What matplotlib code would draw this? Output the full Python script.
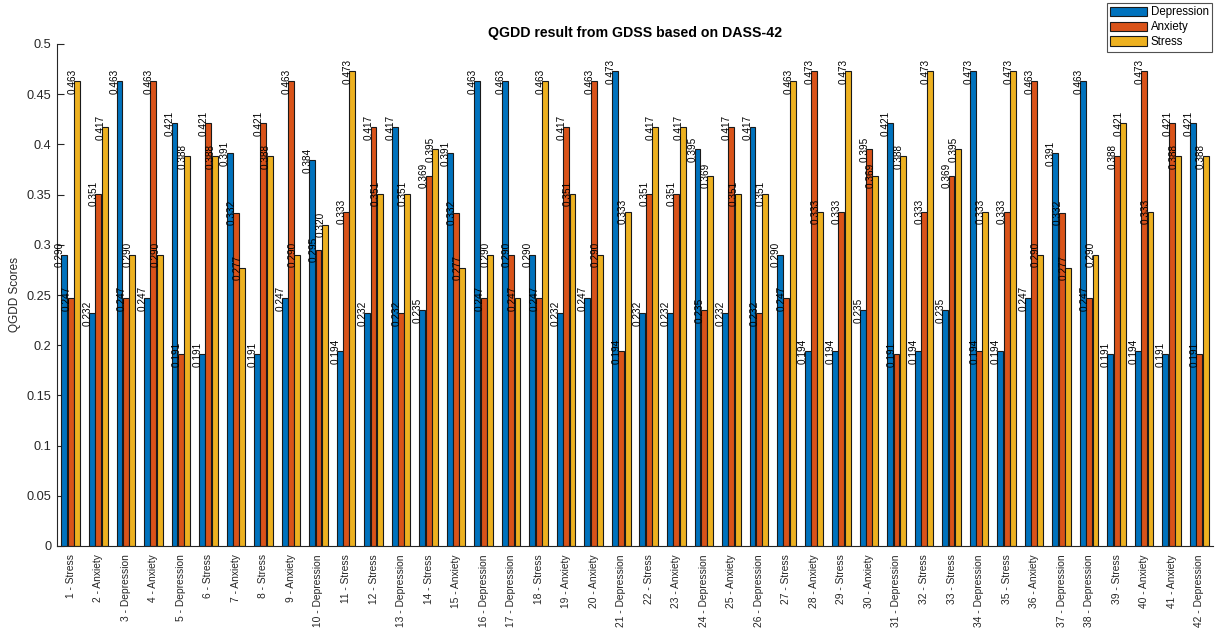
import matplotlib
matplotlib.use("Agg")
import matplotlib.pyplot as plt
import numpy as np

plt.rcParams['font.family'] = ['Liberation Sans', 'DejaVu Sans']

# DASS-42 items and their dominant scale
items = [
    "1 - Stress", "2 - Anxiety", "3 - Depression", "4 - Anxiety", "5 - Depression",
    "6 - Stress", "7 - Anxiety", "8 - Stress", "9 - Anxiety", "10 - Depression",
    "11 - Stress", "12 - Stress", "13 - Depression", "14 - Stress", "15 - Anxiety",
    "16 - Depression", "17 - Depression", "18 - Stress", "19 - Anxiety", "20 - Anxiety",
    "21 - Depression", "22 - Stress", "23 - Anxiety", "24 - Depression", "25 - Anxiety",
    "26 - Depression", "27 - Stress", "28 - Anxiety", "29 - Stress", "30 - Anxiety",
    "31 - Depression", "32 - Stress", "33 - Stress", "34 - Depression", "35 - Stress",
    "36 - Anxiety", "37 - Depression", "38 - Depression", "39 - Stress", "40 - Anxiety",
    "41 - Anxiety", "42 - Depression",
]

depression = [0.290, 0.232, 0.463, 0.247, 0.421, 0.191, 0.391, 0.191, 0.247, 0.384,
              0.194, 0.232, 0.417, 0.235, 0.391, 0.463, 0.463, 0.290, 0.232, 0.247,
              0.473, 0.232, 0.232, 0.395, 0.232, 0.417, 0.290, 0.194, 0.194, 0.235,
              0.421, 0.194, 0.235, 0.473, 0.194, 0.247, 0.391, 0.463, 0.191, 0.194,
              0.191, 0.421]
anxiety = [0.247, 0.351, 0.247, 0.463, 0.191, 0.421, 0.332, 0.421, 0.463, 0.295,
           0.333, 0.417, 0.232, 0.369, 0.332, 0.247, 0.290, 0.247, 0.417, 0.463,
           0.194, 0.351, 0.351, 0.235, 0.417, 0.232, 0.247, 0.473, 0.333, 0.395,
           0.191, 0.333, 0.369, 0.194, 0.333, 0.463, 0.332, 0.247, 0.388, 0.473,
           0.421, 0.191]
stress = [0.463, 0.417, 0.290, 0.290, 0.388, 0.388, 0.277, 0.388, 0.290, 0.320,
          0.473, 0.351, 0.351, 0.395, 0.277, 0.290, 0.247, 0.463, 0.351, 0.290,
          0.333, 0.417, 0.417, 0.369, 0.351, 0.351, 0.463, 0.333, 0.473, 0.369,
          0.388, 0.473, 0.395, 0.333, 0.473, 0.290, 0.277, 0.290, 0.421, 0.333,
          0.388, 0.388]

series_names = ["Depression", "Anxiety", "Stress"]
series_colors = ["#0072BD", "#D95319", "#EDB120"]

W, H = 1219, 633
fig = plt.figure(figsize=(W / 100, H / 100), dpi=100)
ax = fig.add_axes([57 / W, (H - 546) / H, (1213 - 57) / W, (546 - 44) / H])

x = np.arange(1, len(items) + 1)
offset = 0.23
width = 0.215
handles = []
for k, (vals, name, col) in enumerate(zip([depression, anxiety, stress], series_names, series_colors)):
    xs = x + (k - 1) * offset
    bars = ax.bar(xs, vals, width=width, color=col, edgecolor="#1a1a1a",
                  linewidth=0.8, label=name, zorder=2)
    handles.append(bars)
    for xi, v in zip(xs, vals):
        ax.text(xi + 0.02, v, f"{v:.3f}", rotation=90, ha="right", va="center",
                fontsize=7.2, color="black", zorder=3)

ax.set_xlim(0.5, 42.5)
ax.set_ylim(0, 0.5)
ax.set_yticks(np.arange(0, 0.501, 0.05))
ax.set_yticklabels([f"{t:g}" for t in np.arange(0, 0.501, 0.05)], fontsize=9.2, color="#262626")
ax.set_xticks(x)
ax.set_xticklabels(items, rotation=90, fontsize=7.4, color="#262626")
ax.tick_params(axis="y", direction="in", length=5, width=0.8, colors="#262626", pad=4)
ax.tick_params(axis="x", direction="in", length=2, width=0.8, colors="#262626", pad=6)
for s in ["top", "right"]:
    ax.spines[s].set_visible(False)
for s in ["left", "bottom"]:
    ax.spines[s].set_color("#262626")
    ax.spines[s].set_linewidth(0.8)

ax.set_ylabel("QGDD Scores", fontsize=8.5, color="#262626", labelpad=4)
fig.text(635 / W, 1 - 33 / H, "QGDD result from GDSS based on DASS-42",
         ha="center", va="center", fontsize=10.2, fontweight="bold", color="black")

leg = fig.legend(handles=handles, labels=series_names, loc="upper right",
                 bbox_to_anchor=(1212 / W, 1 - 3 / H), fontsize=8.3,
                 frameon=True, fancybox=False, edgecolor="#262626",
                 handlelength=3.2, handleheight=0.9, handletextpad=0.3,
                 labelspacing=0.25, borderpad=0.3, borderaxespad=0)
leg.get_frame().set_linewidth(0.8)

fig.savefig("out.png", dpi=100, facecolor="white")
